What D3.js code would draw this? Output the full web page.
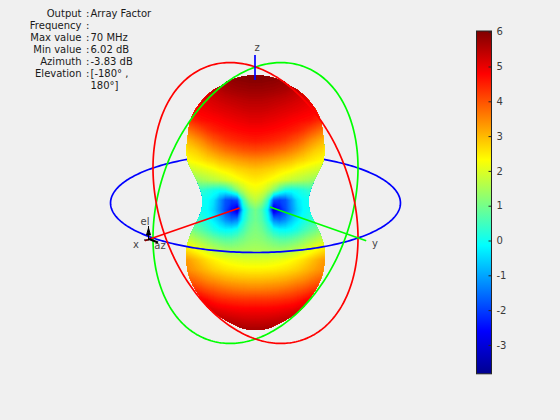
<!DOCTYPE html>
<html><head><meta charset="utf-8">
<script src="https://cdn.jsdelivr.net/npm/d3@7"></script>
<style>html,body{margin:0;padding:0;background:#f0f0f0}svg{display:block}text{font-family:"DejaVu Sans",sans-serif}</style>
</head><body><svg id="c" width="560" height="420"></svg>
<script>
// Info block
const infoKeys = ["Output","Frequency","Max value","Min value","Azimuth","Elevation",""];
const infoVals = ["Array Factor","","70 MHz","6.02 dB","-3.83 dB","[-180° ,","180°]"];
// Colour bar
const cMin = -3.83, cMax = 6.02;
const cTicks = [-3,-2,-1,0,1,2,3,4,5,6];
// Pattern readings: offset from the axis (one side, mirrored), image row, level in dB
const offsets = [0,6,12,18,24,30,36,42,48,54,60,66,72];
const rows = [70,80,90,100,110,120,130,140,150,160,170,180,190,200,210,220,230,240,250,260,270,280,290,300,310,320,330,340];
const dB = [
[6,6,6,6,6,6,6,6,6,6,6,6,6],
[5.95,5.95,5.92,5.9,5.85,5.8,5.7,5.6,5.5,5.4,5.3,5.2,5.1],
[5.75,5.75,5.72,5.7,5.65,5.6,5.5,5.4,5.3,5.2,5.1,5,5],
[5.5,5.5,5.47,5.43,5.38,5.33,5.27,5.2,5.12,5.05,4.95,4.85,4.8],
[5.28,5.28,5.25,5.2,5.15,5.1,5.05,5,4.93,4.87,4.8,4.7,4.6],
[5.05,5.05,5,4.97,4.92,4.87,4.8,4.75,4.7,4.65,4.5,4.35,4.2],
[4.8,4.8,4.77,4.73,4.68,4.62,4.55,4.45,4.3,4.1,3.9,3.7,3.5],
[4.55,4.52,4.48,4.42,4.35,4.25,4.1,3.95,3.75,3.5,3.3,3.1,2.9],
[4.05,4.02,3.98,3.9,3.8,3.7,3.55,3.4,3.2,3,2.8,2.7,2.5],
[3.4,3.38,3.32,3.25,3.15,3.05,2.95,2.8,2.7,2.55,2.45,2.35,2.2],
[2.85,2.82,2.75,2.68,2.55,2.45,2.35,2.2,2.1,2,1.9,1.75,1.6],
[2.5,2.45,2.35,2.2,2.05,1.9,1.75,1.65,1.55,1.45,1.3,1.15,1],
[2.15,2.05,1.7,1.2,0.55,0.1,-0.02,0.05,0.2,0.35,0.4,0.3,0.2],
[1.7,1.4,0.5,-1.8,-2,-1.8,-1.1,-0.4,-0.1,0,0,0,0],
[1,0.6,-0.3,-3.2,-2.5,-1.9,-1.2,-0.55,-0.15,0,0.05,0.1,0.1],
[0.95,0.7,0.05,-1.3,-1.5,-1.2,-0.7,-0.3,0.02,0.25,0.4,0.5,0.5],
[1.1,0.95,0.55,0.1,-0.12,-0.15,-0.05,0.15,0.45,0.7,0.9,1.2,1.3],
[1.25,1.2,1.05,0.9,0.75,0.75,0.85,1,1.2,1.4,1.6,1.75,1.8],
[1.5,1.48,1.45,1.4,1.4,1.45,1.55,1.7,1.9,2.1,2.3,2.5,2.7],
[2,2,2.02,2.07,2.12,2.2,2.3,2.45,2.6,2.8,3,3.2,3.4],
[2.45,2.45,2.47,2.5,2.55,2.6,2.7,2.8,2.95,3.1,3.25,3.4,3.55],
[3,3,3.02,3.05,3.1,3.15,3.25,3.35,3.45,3.6,3.75,3.9,4],
[3.6,3.6,3.62,3.65,3.7,3.77,3.85,3.95,4.05,4.2,4.35,4.5,4.6],
[4.3,4.3,4.3,4.32,4.35,4.4,4.45,4.55,4.7,4.85,5,5.1,5.2],
[4.85,4.85,4.85,4.87,4.9,4.95,5,5.1,5.2,5.3,5.4,5.5,5.5],
[5.25,5.25,5.27,5.3,5.35,5.4,5.5,5.6,5.65,5.7,5.7,5.7,5.7],
[5.65,5.65,5.67,5.7,5.72,5.75,5.8,5.8,5.8,5.8,5.8,5.8,5.8],
[5.9,5.9,5.9,5.9,5.9,5.9,5.9,5.9,5.9,5.9,5.9,5.9,5.9]
];
// Outline of the solid: image row and half width
const outlineY = [75.5,76,78,80,85,90,95,105,120,130,140,150,160,170,180,190,200,210,220,230,240,250,260,270,280,290,300,310,315,320,325,329,330];
const outlineW = [0,9,18,25,33,42,48,57,65,67,68,69,68,64,59,55,53,54,58,63,67,69,69,68,65,60,53,45,38,30,20,10,0];
// Projected unit vectors of the scene axes
const cx0 = 255.5, cy0 = 203;
const xVec = [-102.5,35], yVec = [102.5,35], zVec = [0,-136];

const svg = d3.select("#c");
const jetStops = ["#00008f","#0000ff","#00ffff","#ffff00","#ff0000","#800000"];
const jet = d3.scaleLinear()
  .domain([0,0.125,0.375,0.625,0.875,1].map(t=>cMin+t*(cMax-cMin)))
  .range(jetStops).clamp(true);

// Text block
const info = svg.append("g").attr("font-size",10).attr("fill","#1a1a1a");
infoKeys.forEach((k,i)=>{
  const y = 17+i*11.95;
  if(k){
    info.append("text").attr("x",81.5).attr("y",y).attr("text-anchor","end").text(k);
    info.append("text").attr("x",86).attr("y",y).text(":");
  }
  info.append("text").attr("x",90.5).attr("y",y).text(infoVals[i]);
});

// Rings
const ring = (a,b,from,to)=>d3.line()(d3.range(from,to+0.001,0.02).map(t=>[
  cx0+a[0]*Math.cos(t)+b[0]*Math.sin(t), cy0+a[1]*Math.cos(t)+b[1]*Math.sin(t)]));
const addRing=(d,c)=>svg.append("path").attr("d",d).attr("fill","none").attr("stroke",c)
  .attr("stroke-width",1.7);

addRing(ring(xVec,yVec,3*Math.PI/4,7*Math.PI/4),"#0000ff"); // far half of the horizontal ring

// Surface
const nx = offsets.length*2-1, ny = rows.length;
const values = [];
rows.forEach((_,j)=>{ for(let i=nx-1;i>=0;i--){ const k=Math.abs(i-(offsets.length-1)); values.push(dB[j][k]); }});
const thresholds = d3.range(cMin,cMax,0.06);
const contours = d3.contours().size([nx,ny]).thresholds(thresholds).smooth(true)(values);
const gx = d3.scaleLinear().domain([0.5,nx-0.5]).range([cx0-72,cx0+72]);
const gy = d3.scaleLinear().domain([0.5,ny-0.5]).range([rows[0],rows[ny-1]]);
const proj = d3.geoTransform({point(x,y){this.stream.point(gx(x),gy(y));}});
const gp = d3.geoPath(proj);
const outline = d3.area().y((d,i)=>outlineY[i]).x0((d,i)=>cx0-outlineW[i]).x1((d,i)=>cx0+outlineW[i]).curve(d3.curveMonotoneY)(outlineY);
svg.append("clipPath").attr("id","solid").append("path").attr("d",outline);
const g = svg.append("g").attr("clip-path","url(#solid)");
g.selectAll("path").data(contours).join("path")
  .attr("d",gp).attr("fill",d=>jet(d.value+0.03)).attr("stroke",d=>jet(d.value+0.03)).attr("stroke-width",0.3);

// Near half and tilted rings
addRing(ring(xVec,yVec,-Math.PI/4,3*Math.PI/4),"#0000ff");
addRing(ring(xVec,zVec,0,2*Math.PI),"#00ff00");
addRing(ring(yVec,zVec,0,2*Math.PI),"#ff0000");

// Axes
const axisLine=(x1,y1,x2,y2,c)=>svg.append("line").attr("x1",x1).attr("y1",y1).attr("x2",x2).attr("y2",y2)
  .attr("stroke",c).attr("stroke-width",1.7);
axisLine(239.5,208,cx0+xVec[0]*1.08,cy0+xVec[1]*1.08,"#ff0000");
axisLine(270,207,cx0+yVec[0]*1.08,cy0+yVec[1]*1.08,"#00ff00");
axisLine(255,80,255,55,"#0000ff");
const lbl=(t,x,y)=>svg.append("text").attr("x",x).attr("y",y).attr("font-size",10).attr("fill","#444").attr("text-anchor","middle").text(t);
lbl("x",136,248); lbl("y",375,247); lbl("z",257,51); lbl("el",145,225); lbl("az",160,249);

// Small triad
const triad = svg.append("g").attr("stroke","#000").attr("fill","#000");
triad.append("line").attr("x1",148.5).attr("y1",240).attr("x2",148.5).attr("y2",226).attr("stroke-width",1);
triad.append("path").attr("d","M146.5,235L148.5,228L150.5,235Z").attr("stroke-width",1);
triad.append("line").attr("x1",149).attr("y1",239).attr("x2",158).attr("y2",242.5).attr("stroke-width",2);
triad.append("line").attr("x1",149).attr("y1",240).attr("x2",144).attr("y2",240).attr("stroke-width",1);

// Colour bar
const barY = d3.scaleLinear().domain([cMin,cMax]).range([373.8,31]);
const defs = svg.append("defs");
const lg = defs.append("linearGradient").attr("id","jet").attr("x1",0).attr("y1",1).attr("x2",0).attr("y2",0);
[0,0.125,0.375,0.625,0.875,1].forEach((t,i)=>lg.append("stop").attr("offset",t).attr("stop-color",jetStops[i]));
svg.append("rect").attr("x",476.5).attr("y",31).attr("width",15).attr("height",342.8)
  .attr("fill","url(#jet)").attr("stroke","#262626").attr("stroke-width",1);
const ax = svg.append("g").attr("transform","translate(491.5,0)")
  .call(d3.axisRight(barY).tickValues(cTicks).tickSize(-3).tickPadding(5).tickFormat(d3.format("d")));
ax.select(".domain").remove();
ax.selectAll(".tick line").attr("stroke","#262626");
ax.selectAll("text").attr("font-size",10).attr("fill","#3a3a3a").attr("font-family","DejaVu Sans").text(d=>String(d));
</script></body></html>
